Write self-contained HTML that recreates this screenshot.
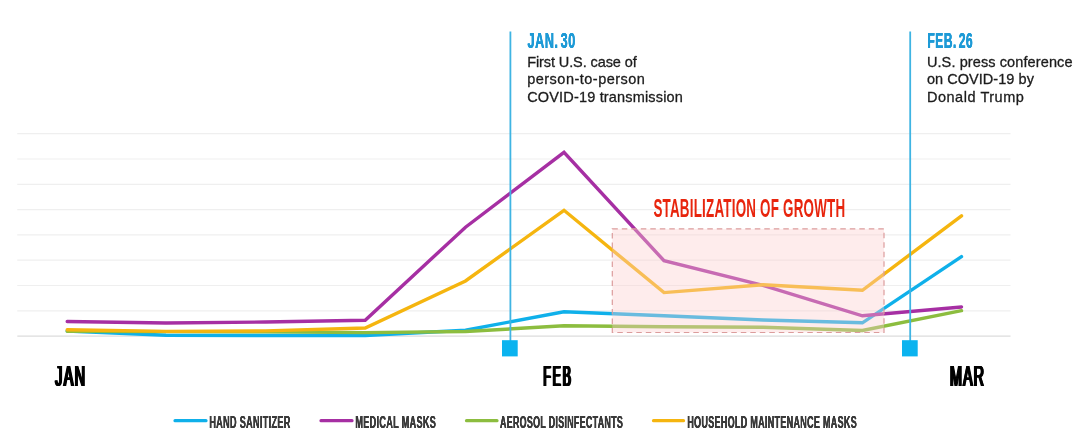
<!DOCTYPE html>
<html><head><meta charset="utf-8"><title>Chart</title>
<style>
html,body{margin:0;padding:0;background:#fff;}
body{width:1080px;height:443px;overflow:hidden;position:relative;font-family:"Liberation Sans",sans-serif;}
svg{position:absolute;left:0;top:0;display:block;}
.body{font-family:"Liberation Sans",sans-serif;font-size:14.5px;fill:#1c1c1c;stroke:#1c1c1c;stroke-width:0.3px;}

.c{position:absolute;white-space:nowrap;transform-origin:0 0;font-family:"Liberation Sans",sans-serif;line-height:1;}
.mon{font-size:29.5px;letter-spacing:4.5px;font-weight:normal;color:#000;text-shadow:calc(var(--k)*-0.45px) 0 0 #000,calc(var(--k)*0.45px) 0 0 #000,calc(var(--k)*-0.9px) 0 0 #000,calc(var(--k)*0.9px) 0 0 #000;}
.dt{font-size:22.8px;letter-spacing:0.9px;word-spacing:-3.5px;font-weight:bold;color:#1d9ad6;text-shadow:-0.25px 0 0 #1d9ad6,0.25px 0 0 #1d9ad6;}
.stab{font-size:25.9px;font-weight:bold;color:#e8250d;letter-spacing:0.4px;}
.lg{font-size:17.4px;font-weight:bold;color:#3a3a3a;letter-spacing:0.6px;text-shadow:-0.15px 0 0 #3a3a3a,0.15px 0 0 #3a3a3a;}
</style></head><body>
<svg width="1080" height="443" viewBox="0 0 1080 443">
<rect width="1080" height="443" fill="#fff"/>
<!-- grid -->
<g stroke="#efefef" stroke-width="1.2" fill="none">
<path d="M17.3 133.7H1010.5M17.3 159H1010.5M17.3 184.3H1010.5M17.3 209.6H1010.5M17.3 234.9H1010.5M17.3 260.2H1010.5M17.3 285.5H1010.5M17.3 310.8H1010.5"/>
</g>
<path d="M17.3 336.1H1010.5" stroke="#dcdcdc" stroke-width="1.4" fill="none"/>
<!-- series -->
<g fill="none" stroke-width="3.4" stroke-linecap="round" stroke-linejoin="miter">
<polyline stroke="#0fb0ea" points="67.2,331 166,335.2 265.5,335.5 365.2,335.5 465.5,330.2 564,311.8 664,315.8 763,320 862.4,322.8 961.5,256.6"/>
<polyline stroke="#a62fa3" points="67.2,321.5 166,323 265.5,322 365.2,320.2 465.5,227.2 564,152.3 664,260.7 763,285.4 862.4,315.8 961.5,307"/>
<polyline stroke="#8cbd3f" points="67.2,331.3 166,331.6 265.5,331.7 365.2,332.6 465.5,331.5 564,325.8 664,326.8 763,327.3 862.4,330.5 961.5,310.7"/>
<polyline stroke="#f5b50f" points="67.2,329.7 166,331.4 265.5,330.9 365.2,328 465.5,281 564,210.3 664,292.6 763,284.8 862.4,290.3 961.5,215.8"/>
</g>
<!-- stabilization box -->
<rect x="612.3" y="228.9" width="271.7" height="103.6" fill="#fccdcd" fill-opacity="0.38" stroke="#dc9c9c" stroke-width="1.2" stroke-dasharray="5.5 4"/>
<!-- event markers -->
<g stroke="#3fb4e3" stroke-width="1.8">
<path d="M510.4 31.6V342M910.2 31.6V342"/>
</g>
<rect x="502" y="340.2" width="15.7" height="16.2" fill="#0bb3ef"/>
<rect x="902" y="340.2" width="15.7" height="16.2" fill="#0bb3ef"/>
<!-- texts -->
<text class="body" id="t_l1a" x="527.2" y="66.7" textLength="109.5" lengthAdjust="spacing">First U.S. case of</text>
<text class="body" id="t_l1b" x="527.2" y="84.2" textLength="117.7" lengthAdjust="spacing">person-to-person</text>
<text class="body" id="t_l1c" x="527.2" y="101.6" textLength="155.7" lengthAdjust="spacing">COVID-19 transmission</text>
<text class="body" id="t_l2a" x="926.9" y="66.7" textLength="145.6" lengthAdjust="spacing">U.S. press conference</text>
<text class="body" id="t_l2b" x="926.9" y="84.2" textLength="107" lengthAdjust="spacing">on COVID-19 by</text>
<text class="body" id="t_l2c" x="926.9" y="101.6" textLength="97" lengthAdjust="spacing">Donald Trump</text>
<!-- legend -->
<g fill="none" stroke-width="3.2" stroke-linecap="round">
<path stroke="#0fb0ea" d="M175 420.7H206"/>
<path stroke="#a62fa3" d="M321 420.7H352"/>
<path stroke="#8cbd3f" d="M466.5 420.7H497"/>
<path stroke="#f5b50f" d="M653.5 420.7H683.5"/>
</g>
</svg>

<div class="c dt" id="t_jan30" style="left:0;top:0;transform:translate(527.5px,29.4px) scaleX(0.558)">JAN. 30</div>
<div class="c dt" id="t_feb26" style="left:0;top:0;transform:translate(927.4px,29.4px) scaleX(0.529)">FEB. 26</div>
<div class="c stab" id="t_stab" style="left:0;top:0;transform:translate(653.4px,195.5px) scaleX(0.518)">STABILIZATION OF GROWTH</div>
<div class="c mon" id="t_jan" style="left:0;top:0;--k:2.05;letter-spacing:2.8px;transform:translate(55.2px,361.1px) scaleX(0.487)">JAN</div>
<div class="c mon" id="t_feb" style="left:0;top:0;--k:2.4;transform:translate(543.3px,361.1px) scaleX(0.417)">FEB</div>
<div class="c mon" id="t_mar" style="left:0;top:0;--k:2.07;letter-spacing:2.4px;transform:translate(950px,361.1px) scaleX(0.483)">MAR</div>
<div class="c lg" id="t_lg1" style="left:0;top:0;transform:translate(209.3px,414px) scaleX(0.524)">HAND SANITIZER</div>
<div class="c lg" id="t_lg2" style="left:0;top:0;transform:translate(355.3px,414px) scaleX(0.524)">MEDICAL MASKS</div>
<div class="c lg" id="t_lg3" style="left:0;top:0;transform:translate(500px,414px) scaleX(0.511)">AEROSOL DISINFECTANTS</div>
<div class="c lg" id="t_lg4" style="left:0;top:0;transform:translate(687.3px,414px) scaleX(0.517)">HOUSEHOLD MAINTENANCE MASKS</div>
</body></html>
